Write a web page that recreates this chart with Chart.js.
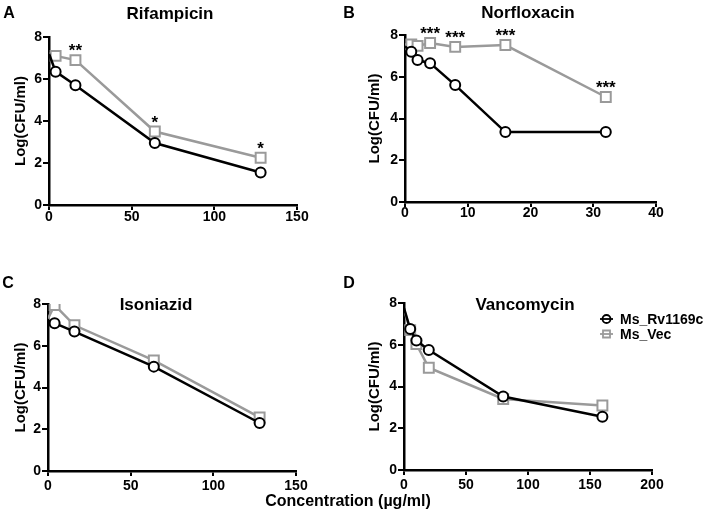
<!DOCTYPE html>
<html>
<head>
<meta charset="utf-8">
<script src="https://cdn.jsdelivr.net/npm/chart.js@4.4.1/dist/chart.umd.min.js"></script>
<style>
  body { margin: 0; background: #fff; }
  #wrap { position: relative; width: 708px; height: 517px; font-family: "Liberation Sans", Arial, sans-serif; font-weight: bold; color: #000; }
  canvas { position: absolute; }
  .lbl { position: absolute; transform: translate(-50%, -50%); white-space: nowrap; line-height: 1; }
</style>
</head>
<body>
<div id="wrap">
  <canvas id="cA" width="354" height="258" style="left:0;top:0"></canvas>
  <canvas id="cB" width="354" height="258" style="left:354px;top:0"></canvas>
  <canvas id="cC" width="354" height="258" style="left:0;top:258px"></canvas>
  <canvas id="cD" width="354" height="258" style="left:354px;top:258px"></canvas>

  <div class="lbl" style="left:9px;top:13px;font-size:16px">A</div>
  <div class="lbl" style="left:349px;top:13px;font-size:16px">B</div>
  <div class="lbl" style="left:8px;top:283px;font-size:16px">C</div>
  <div class="lbl" style="left:349px;top:283px;font-size:16px">D</div>

  <div class="lbl" style="left:170px;top:13px;font-size:17px">Rifampicin</div>
  <div class="lbl" style="left:528px;top:12px;font-size:17px">Norfloxacin</div>
  <div class="lbl" style="left:156px;top:304px;font-size:17px">Isoniazid</div>
  <div class="lbl" style="left:525px;top:304px;font-size:17px">Vancomycin</div>

  <div class="lbl" style="left:348px;top:501px;font-size:16px">Concentration (µg/ml)</div>
</div>

<script>
// series names
const seriesNames = ['Ms_Rv1169c', 'Ms_Vec'];

// Rifampicin
const rifConc = [0, 4, 16, 64, 128];
const rifRv = [7.2, 6.35, 5.7, 2.95, 1.55];
const rifVec = [7.2, 7.1, 6.9, 3.5, 2.25];
const rifSig = ['', '', '**', '*', '*'];

// Norfloxacin
const norConc = [0, 1, 2, 4, 8, 16, 32];
const norRv = [7.45, 7.2, 6.8, 6.65, 5.6, 3.35, 3.35];
const norVec = [7.55, 7.55, 7.48, 7.62, 7.43, 7.52, 5.03];
const norSig = ['', '', '', '***', '***', '***', '***'];

// Isoniazid
const inhConc = [0, 4, 16, 64, 128];
const inhRv = [7.2, 7.08, 6.68, 5.0, 2.3];
const inhVec = [7.3, 7.95, 6.98, 5.3, 2.57];
const inhSig = ['', '', '', '', ''];

// Vancomycin
const vanConc = [0, 5, 10, 20, 80, 160];
const vanRv = [7.75, 6.75, 6.2, 5.75, 3.52, 2.55];
const vanVec = [7.7, 6.7, 6.03, 4.9, 3.4, 3.09];
const vanSig = ['', '', '', '', '', ''];

const FONT = '"Liberation Sans", Arial, sans-serif';
const BLACK = '#000';
const GRAY = '#9a9a9a';

function pts(xs, ys) {
  return xs.map((x, i) => ({ x: x, y: ys[i] }));
}

// asterisks above the Ms_Vec points
const starsPlugin = {
  id: 'stars',
  afterDatasetsDraw(chart, args, opts) {
    if (!opts.labels) return;
    const ctx = chart.ctx;
    const xs = chart.scales.x, ys = chart.scales.y;
    const vec = chart.data.datasets[1].data;
    ctx.save();
    ctx.font = 'bold 17px ' + FONT;
    ctx.fillStyle = '#000';
    ctx.textAlign = 'center';
    ctx.textBaseline = 'alphabetic';
    opts.labels.forEach((s, i) => {
      if (!s) return;
      const px = xs.getPixelForValue(vec[i].x);
      const py = ys.getPixelForValue(vec[i].y);
      ctx.fillText(s, px, py - 4);
    });
    ctx.restore();
  }
};

// small legend drawn only on panel D
const legendPlugin = {
  id: 'miniLegend',
  afterDraw(chart, args, opts) {
    if (!opts.show) return;
    const ctx = chart.ctx;
    ctx.save();
    chart.data.datasets.forEach((ds, i) => {
      const y = opts.y + i * opts.row;
      ctx.strokeStyle = ds.borderColor;
      ctx.lineWidth = 1.8;
      ctx.beginPath();
      ctx.moveTo(opts.x, y);
      ctx.lineTo(opts.x + 13, y);
      ctx.stroke();
      ctx.beginPath();
      if (ds.pointStyle === 'rect') {
        ctx.rect(opts.x + 3, y - 3.5, 7, 7);
      } else {
        ctx.arc(opts.x + 6.5, y, 4, 0, Math.PI * 2);
      }
      ctx.stroke();
      ctx.fillStyle = '#000';
      ctx.font = 'bold 14px ' + FONT;
      ctx.textBaseline = 'middle';
      ctx.fillText(ds.label, opts.x + 20, y + 1);
    });
    ctx.restore();
  }
};

function makePanel(id, conc, rv, vec, sig, xMax, xStep, lay, legend) {
  const circR = ctx => (ctx.raw && ctx.raw.x === 0 ? 0 : 5);
  const sqR = ctx => (ctx.raw && ctx.raw.x === 0 ? 0 : 7);
  new Chart(document.getElementById(id), {
    type: 'line',
    data: {
      datasets: [{
        label: seriesNames[0],
        data: pts(conc, rv),
        borderColor: BLACK,
        borderWidth: 2.5,
        pointStyle: 'circle',
        pointRadius: circR,
        pointBorderWidth: 2,
        pointBackgroundColor: '#fff',
        pointBorderColor: BLACK,
        tension: 0
      }, {
        label: seriesNames[1],
        data: pts(conc, vec),
        borderColor: GRAY,
        borderWidth: 2.5,
        pointStyle: 'rect',
        pointRadius: sqR,
        pointBorderWidth: 2,
        pointBackgroundColor: '#fff',
        pointBorderColor: GRAY,
        tension: 0
      }]
    },
    options: {
      responsive: false,
      animation: false,
      devicePixelRatio: 1,
      layout: { padding: { left: 0, top: lay.top, right: lay.right, bottom: lay.bottom } },
      plugins: {
        legend: { display: false },
        tooltip: { enabled: false },
        stars: { labels: sig },
        miniLegend: legend || { show: false }
      },
      scales: {
        x: {
          type: 'linear',
          min: 0,
          max: xMax,
          ticks: { stepSize: xStep, color: '#000', padding: lay.tp, font: { family: FONT, weight: 'bold', size: 14 } },
          grid: { drawOnChartArea: false, drawTicks: true, tickLength: 5, color: '#000', lineWidth: 2 },
          border: { color: '#000', width: 2.5 },
          afterFit: s => { s.height = 30; }
        },
        y: {
          min: 0,
          max: 8,
          ticks: { stepSize: 2, color: '#000', padding: 1, font: { family: FONT, weight: 'bold', size: 14 } },
          grid: { drawOnChartArea: false, drawTicks: true, tickLength: 6, color: '#000', lineWidth: 2 },
          border: { color: '#000', width: 2.5 },
          title: {
            display: true,
            text: 'Log(CFU/ml)',
            color: '#000',
            font: { family: FONT, weight: 'bold', size: 15 },
            padding: { top: 12, bottom: 0 }
          },
          afterFit: s => { s.width = lay.yw; }
        }
      }
    },
    plugins: [starsPlugin, legendPlugin]
  });
}

makePanel('cA', rifConc, rifRv, rifVec, rifSig, 150, 50, { yw: 49, top: 37, right: 57, bottom: 23, tp: -1 });
makePanel('cB', norConc, norRv, norVec, norSig, 40, 10, { yw: 51, top: 35, right: 52, bottom: 26, tp: -2 });
makePanel('cC', inhConc, inhRv, inhVec, inhSig, 150, 50, { yw: 48, top: 46, right: 58, bottom: 15, tp: 2 });
makePanel('cD', vanConc, vanRv, vanVec, vanSig, 200, 50, { yw: 50, top: 45, right: 56, bottom: 16, tp: 2 },
  { show: true, x: 246, y: 61, row: 15 });
</script>
</body>
</html>
